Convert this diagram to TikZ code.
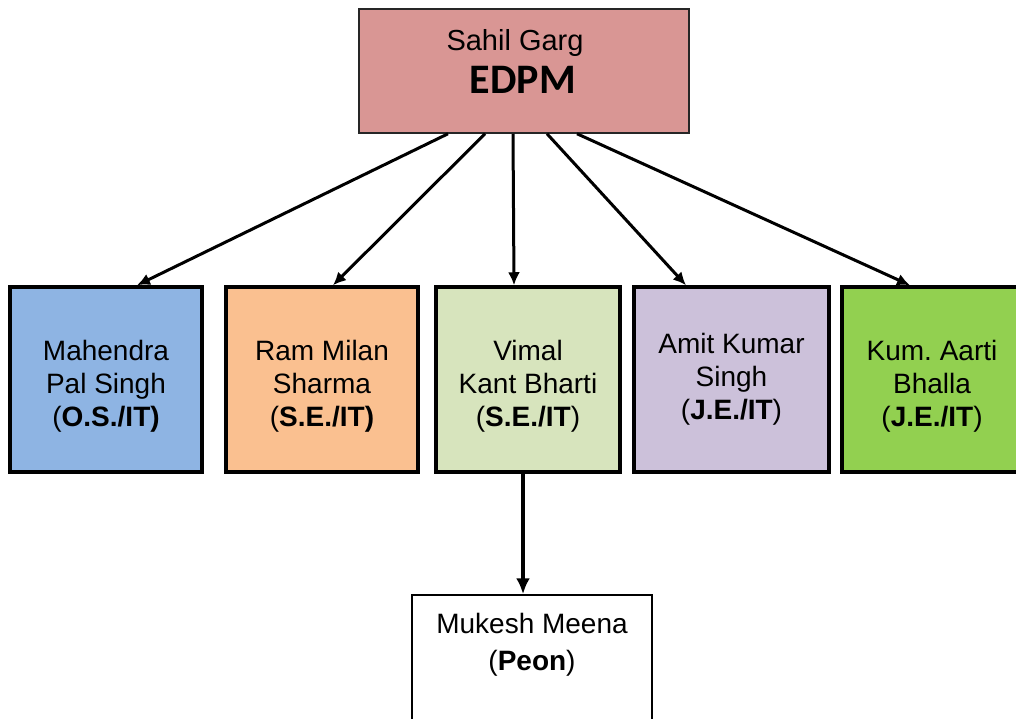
\documentclass[tikz,border=0pt]{standalone}
\usepackage{fontspec}
\setmainfont{Liberation Sans}
\newfontfamily\calibri{Carlito}
\usetikzlibrary{arrows.meta}
\frenchspacing
\definecolor{cTop}{HTML}{D99694}
\definecolor{cBlue}{HTML}{8EB4E3}
\definecolor{cOrange}{HTML}{FAC090}
\definecolor{cLgreen}{HTML}{D7E4BD}
\definecolor{cLav}{HTML}{CCC1DA}
\definecolor{cGreen}{HTML}{92D050}
\newcommand{\lowerstrut}{\rule{0pt}{34pt}}
\tikzset{
  rowbox/.style={draw=black, line width=3.5pt, rectangle, inner sep=0pt,
     align=center, font=\fontsize{28}{33}\selectfont, minimum height=185pt},
  topbox/.style={draw=black!85, line width=1.5pt, fill=cTop, rectangle, inner sep=0pt,
     minimum width=330pt, minimum height=124pt},
  lowbox/.style={draw=black, line width=1.5pt, fill=white, rectangle, inner sep=0pt,
     minimum width=240pt, minimum height=160pt},
  conn/.style={line width=3pt, -{Latex[length=13pt,width=12pt]}},
  connthick/.style={line width=4pt, -{Latex[length=16pt,width=14pt]}},
  lbl/.style={inner sep=0pt, anchor=base}
}
\begin{document}
\begin{tikzpicture}[x=1pt,y=-1pt]
\useasboundingbox (0,0) rectangle (1016,718);
\begin{scope}
\clip (0,0) rectangle (1016,718);
% top box
\node[topbox] (top) at (524,71) {};
\node[lbl, font=\fontsize{29}{34}\selectfont] (t1) at (515,50) {Sahil Garg};
\node[lbl, font=\calibri\bfseries\fontsize{42}{46}\selectfont] (t2) at (523,93) {EDPM};
% row boxes
\node[rowbox, fill=cBlue, minimum width=192pt] (b1) at (106,379.5)
  {\lowerstrut Mahendra\\Pal Singh\\(\textbf{O.S./IT)}};
\node[rowbox, fill=cOrange, minimum width=192pt] (b2) at (322,379.5)
  {\lowerstrut Ram Milan\\Sharma\\(\textbf{S.E./IT)}};
\node[rowbox, fill=cLgreen, minimum width=184pt] (b3) at (528,379.5)
  {\lowerstrut Vimal\\Kant Bharti\\(\textbf{S.E./IT})};
\node[rowbox, fill=cLav, minimum width=195pt] (b4) at (731.5,379.5)
  {Amit Kumar\\Singh\\(\textbf{J.E./IT})};
\node[rowbox, fill=cGreen, minimum width=180pt] (b5) at (932,379.5)
  {\lowerstrut Kum. Aarti\\Bhalla\\(\textbf{J.E./IT})};
% bottom box
\node[lowbox] (low) at (532,675) {};
\node[lbl, font=\fontsize{28}{33}\selectfont] (m1) at (532,633) {Mukesh Meena};
\node[lbl, font=\fontsize{28}{33}\selectfont] (m2) at (532,670) {(\textbf{Peon})};
% connectors
\draw[conn] ([xshift=-76pt]top.south) -- ([xshift=31pt]b1.north);
\draw[conn] ([xshift=-39pt]top.south) -- ([xshift=11pt]b2.north);
\draw[conn] ([xshift=-11pt]top.south) -- ([xshift=-14pt]b3.north);
\draw[conn] ([xshift=23pt]top.south) -- ([xshift=-45.5pt]b4.north);
\draw[conn] ([xshift=53pt]top.south) -- ([xshift=-22pt]b5.north);
\draw[connthick] ([xshift=-5pt]b3.south) -- ([xshift=-5pt]b3.south |- low.north);
\end{scope}
\end{tikzpicture}
\end{document}
